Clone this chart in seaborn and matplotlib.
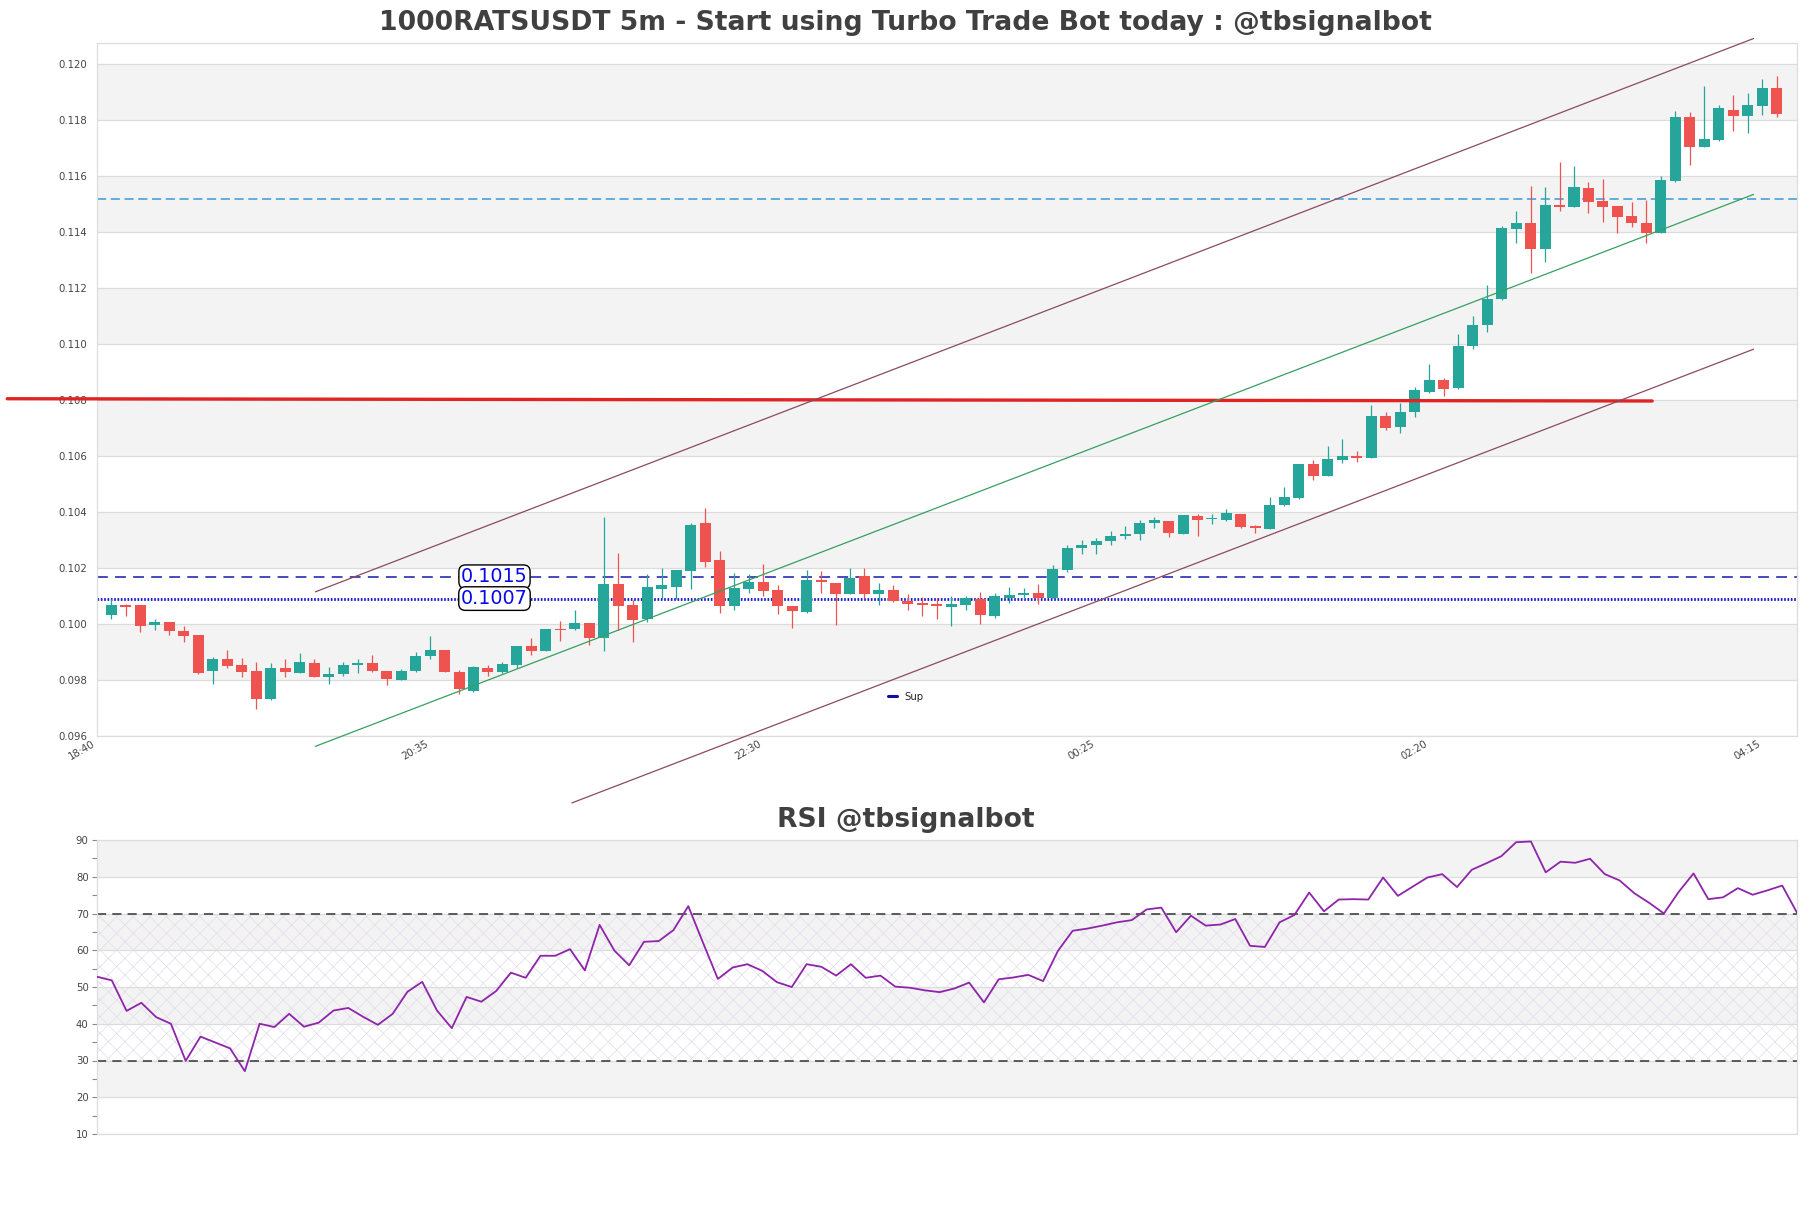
import numpy as np
import pandas as pd
import matplotlib
matplotlib.use("Agg")
import matplotlib.pyplot as plt
from matplotlib.lines import Line2D
import seaborn as sns

# ---------------- data ----------------
title_main = "1000RATSUSDT 5m - Start using Turbo Trade Bot today : @tbsignalbot"
title_rsi = "RSI @tbsignalbot"

opens = [0.10031, 0.10069, 0.10067, 0.09995, 0.10008, 0.09976, 0.09962, 0.09831, 0.09876, 0.09855,
         0.09834, 0.09731, 0.09843, 0.09824, 0.09861, 0.09810, 0.09820, 0.09853, 0.09861, 0.09834,
         0.09801, 0.09831, 0.09885, 0.09907, 0.09829, 0.09759, 0.09844, 0.09828, 0.09852, 0.09920,
         0.09903, 0.09981, 0.09981, 0.10002, 0.09949, 0.10143, 0.10067, 0.10017, 0.10125, 0.10132,
         0.10190, 0.10362, 0.10229, 0.10065, 0.10125, 0.10150, 0.10121, 0.10064, 0.10044, 0.10158,
         0.10148, 0.10108, 0.10170, 0.10108, 0.10123, 0.10083, 0.10076, 0.10071, 0.10060, 0.10067,
         0.10091, 0.10029, 0.10094, 0.10102, 0.10112, 0.10094, 0.10194, 0.10273, 0.10281, 0.10295,
         0.10314, 0.10320, 0.10361, 0.10368, 0.10323, 0.10386, 0.10374, 0.10370, 0.10392, 0.10349,
         0.10338, 0.10424, 0.10451, 0.10572, 0.10530, 0.10587, 0.10599, 0.10594, 0.10744, 0.10705,
         0.10758, 0.10830, 0.10871, 0.10844, 0.10994, 0.11067, 0.11162, 0.11411, 0.11432, 0.11340,
         0.11497, 0.11491, 0.11557, 0.11511, 0.11494, 0.11458, 0.11432, 0.11398, 0.11584, 0.11810,
         0.11705, 0.11729, 0.11838, 0.11816, 0.11851, 0.11917]
highs = [0.10091, 0.10070, 0.10069, 0.10019, 0.10009, 0.09993, 0.09962, 0.09882, 0.09909, 0.09880,
         0.09864, 0.09861, 0.09876, 0.09898, 0.09874, 0.09848, 0.09864, 0.09876, 0.09891, 0.09834,
         0.09841, 0.09900, 0.09957, 0.09909, 0.09835, 0.09850, 0.09852, 0.09865, 0.09923, 0.09949,
         0.09983, 0.10011, 0.10049, 0.10003, 0.10382, 0.10253, 0.10085, 0.10178, 0.10200, 0.10194,
         0.10361, 0.10416, 0.10262, 0.10184, 0.10178, 0.10214, 0.10139, 0.10064, 0.10193, 0.10188,
         0.10148, 0.10201, 0.10201, 0.10148, 0.10141, 0.10106, 0.10096, 0.10093, 0.10100, 0.10100,
         0.10114, 0.10111, 0.10132, 0.10130, 0.10144, 0.10210, 0.10283, 0.10301, 0.10307, 0.10331,
         0.10352, 0.10373, 0.10381, 0.10369, 0.10391, 0.10394, 0.10392, 0.10410, 0.10392, 0.10353,
         0.10453, 0.10489, 0.10572, 0.10586, 0.10637, 0.10661, 0.10619, 0.10783, 0.10756, 0.10791,
         0.10848, 0.10930, 0.10878, 0.11037, 0.11101, 0.11212, 0.11422, 0.11476, 0.11565, 0.11563,
         0.11652, 0.11636, 0.11578, 0.11590, 0.11494, 0.11509, 0.11515, 0.11601, 0.11832, 0.11828,
         0.11923, 0.11854, 0.11889, 0.11899, 0.11947, 0.11957]
lows = [0.10019, 0.10029, 0.09972, 0.09978, 0.09960, 0.09936, 0.09820, 0.09785, 0.09844, 0.09811,
        0.09697, 0.09729, 0.09810, 0.09824, 0.09811, 0.09785, 0.09814, 0.09824, 0.09829, 0.09781,
        0.09799, 0.09829, 0.09874, 0.09827, 0.09751, 0.09757, 0.09813, 0.09825, 0.09843, 0.09889,
        0.09903, 0.09941, 0.09977, 0.09925, 0.09903, 0.09977, 0.09935, 0.10007, 0.10091, 0.10089,
        0.10125, 0.10205, 0.10041, 0.10049, 0.10110, 0.10101, 0.10035, 0.09987, 0.10038, 0.10111,
        0.09998, 0.10108, 0.10094, 0.10067, 0.10079, 0.10049, 0.10029, 0.10017, 0.09993, 0.10049,
        0.10001, 0.10023, 0.10076, 0.10091, 0.10073, 0.10094, 0.10186, 0.10249, 0.10249, 0.10281,
        0.10305, 0.10301, 0.10343, 0.10311, 0.10321, 0.10315, 0.10356, 0.10368, 0.10343, 0.10325,
        0.10338, 0.10421, 0.10447, 0.10516, 0.10530, 0.10574, 0.10578, 0.10594, 0.10694, 0.10681,
        0.10741, 0.10827, 0.10815, 0.10840, 0.10982, 0.11045, 0.11156, 0.11360, 0.11256, 0.11293,
        0.11477, 0.11491, 0.11470, 0.11438, 0.11398, 0.11420, 0.11363, 0.11398, 0.11580, 0.11640,
        0.11705, 0.11727, 0.11761, 0.11753, 0.11818, 0.11810]
closes = [0.10069, 0.10060, 0.09992, 0.10007, 0.09974, 0.09956, 0.09825, 0.09876, 0.09851, 0.09828,
          0.09731, 0.09844, 0.09828, 0.09866, 0.09811, 0.09823, 0.09854, 0.09861, 0.09831, 0.09804,
          0.09834, 0.09886, 0.09909, 0.09827, 0.09767, 0.09848, 0.09828, 0.09859, 0.09920, 0.09903,
          0.09981, 0.09978, 0.10002, 0.09949, 0.10143, 0.10065, 0.10013, 0.10132, 0.10140, 0.10193,
          0.10355, 0.10223, 0.10065, 0.10128, 0.10150, 0.10119, 0.10065, 0.10047, 0.10157, 0.10150,
          0.10108, 0.10166, 0.10108, 0.10123, 0.10081, 0.10073, 0.10067, 0.10063, 0.10071, 0.10093,
          0.10031, 0.10100, 0.10104, 0.10112, 0.10094, 0.10198, 0.10273, 0.10283, 0.10296, 0.10314,
          0.10323, 0.10361, 0.10373, 0.10325, 0.10391, 0.10370, 0.10376, 0.10396, 0.10347, 0.10343,
          0.10426, 0.10453, 0.10572, 0.10530, 0.10590, 0.10599, 0.10594, 0.10744, 0.10700, 0.10759,
          0.10836, 0.10871, 0.10841, 0.10995, 0.11069, 0.11162, 0.11414, 0.11432, 0.11340, 0.11497,
          0.11491, 0.11563, 0.11509, 0.11491, 0.11455, 0.11432, 0.11396, 0.11586, 0.11810, 0.11705,
          0.11733, 0.11842, 0.11816, 0.11854, 0.11917, 0.11824]

rsi = [52.8, 51.8, 43.5, 45.7, 41.8, 40.0, 29.9, 36.5, 34.9, 33.3,
       27.1, 40.0, 39.1, 42.7, 39.2, 40.3, 43.6, 44.3, 41.9, 39.7,
       42.7, 48.7, 51.4, 43.6, 38.8, 47.3, 46.0, 48.9, 53.9, 52.5,
       58.5, 58.5, 60.3, 54.5, 66.9, 59.9, 55.9, 62.3, 62.5, 65.5,
       72.0, 62.0, 52.2, 55.3, 56.2, 54.4, 51.3, 50.0, 56.2, 55.5,
       53.1, 56.2, 52.5, 53.1, 50.1, 49.8, 49.1, 48.6, 49.6, 51.2,
       45.8, 52.1, 52.6, 53.3, 51.6, 59.8, 65.3, 65.9, 66.7, 67.6,
       68.2, 71.1, 71.6, 64.9, 69.4, 66.7, 67.0, 68.5, 61.2, 60.9,
       67.6, 69.6, 75.7, 70.6, 73.8, 73.9, 73.8, 79.8, 74.8, 77.3,
       79.8, 80.7, 77.2, 81.9, 83.7, 85.6, 89.4, 89.6, 81.2, 84.1,
       83.8, 84.9, 80.7, 79.0, 75.5, 72.9, 70.0, 75.9, 80.9, 73.9,
       74.4, 76.9, 75.1, 76.3, 77.6, 70.2]

time_labels = ["18:40", "20:35", "22:30", "00:25", "02:20", "04:15"]
tick_index = [-1, 22, 45, 68, 91, 114]

res_level = 0.10169      # dashed blue
sup_level = 0.10091      # dotted blue
res_label = "0.1015"
sup_label = "0.1007"
cyan_level = 0.1152
red_level = [0.10805, 0.10797]
red_x = [-7.2, 106.4]

chan_x_upper = [14.08, 113.4]
chan_y_upper = [0.10115, 0.12092]
chan_x_mid = [14.08, 113.4]
chan_y_mid = [0.09563, 0.11535]
chan_x_lower = [31.8, 113.4]
chan_y_lower = [0.09361, 0.10982]

df = pd.DataFrame({"open": opens, "high": highs, "low": lows, "close": closes})
df["idx"] = np.arange(len(df))

# ---------------- style ----------------
sns.set_theme(style="white")
plt.rcParams["font.family"] = ["DejaVu Sans"]
plt.rcParams["hatch.linewidth"] = 0.5

W, H = 1811, 1208
fig = plt.figure(figsize=(W / 100, H / 100), dpi=100)
fig.patch.set_facecolor("white")

ax = fig.add_axes([97 / W, 1 - 736 / H, 1700 / W, (736 - 43) / H])
ax2 = fig.add_axes([97 / W, 1 - 1134 / H, 1700 / W, (1134 - 840) / H])

GREEN = "#26a69a"
RED = "#ef5350"
BAND = "#f3f3f3"
GRID = "#dcdcdc"
TXT = "#444444"

# ---------------- main panel ----------------
ylo, yhi = 0.096, 0.12076
ax.set_ylim(ylo, yhi)
ax.set_xlim(-1, 116.4)
for k, y0 in enumerate(np.arange(0.096, 0.1201, 0.002)):
    if k % 2 == 1:
        ax.axhspan(y0, y0 + 0.002, color=BAND, zorder=0, lw=0)
    ax.axhline(y0, color=GRID, lw=0.9, zorder=0.5)

up = df["close"] >= df["open"]
colors = np.where(up, GREEN, RED)
body_lo = np.minimum(df["open"], df["close"])
body_h = np.maximum(np.abs(df["close"] - df["open"]), 0.00004)
ax.vlines(df["idx"], df["low"], df["high"], colors=colors, lw=0.9, zorder=3)
ax.bar(df["idx"], body_h, bottom=body_lo, width=0.76, color=colors, lw=0, zorder=4)

ax.axhline(res_level, color="#3a3ab8", lw=1.3, ls=(0, (6, 4)), zorder=2)
ax.axhline(sup_level, color="#1515cc", lw=2.0, ls=(0, (0.6, 0.6)), zorder=2, label="Sup")
ax.axhline(cyan_level, color="#3b9ad6", lw=1.1, ls=(0, (6, 3)), zorder=2)
ax.plot(red_x, red_level, color="#e02424", lw=2.4, zorder=5, clip_on=False)
ax.plot(chan_x_upper, chan_y_upper, color="#8a4a60", lw=0.9, zorder=5, clip_on=False)
ax.plot(chan_x_lower, chan_y_lower, color="#8a4a60", lw=0.9, zorder=5, clip_on=False)
ax.plot(chan_x_mid, chan_y_mid, color="#35a060", lw=0.9, zorder=5, clip_on=False)

box = dict(boxstyle="round,pad=0.12,rounding_size=0.35", fc="white", ec="black", lw=1.0)
ax.text(26.45, res_level, res_label, color="#0808e8", fontsize=13.8, ha="center", va="center",
        bbox=box, zorder=6)
ax.text(26.45, sup_level, sup_label, color="#0808e8", fontsize=13.8, ha="center", va="center",
        bbox=box, zorder=6)

ax.set_yticks(np.arange(0.096, 0.1201, 0.002))
ax.set_yticklabels([f"{v:.3f}" for v in np.arange(0.096, 0.1201, 0.002)])
ax.set_xticks(tick_index)
ax.set_xticklabels(time_labels, rotation=30, ha="right")
ax.tick_params(axis="y", length=0, pad=7, labelsize=7.3, labelcolor=TXT)
ax.tick_params(axis="x", length=0, pad=2, labelsize=7.3, labelcolor=TXT)
for s in ax.spines.values():
    s.set_color("#dddddd")
    s.set_linewidth(0.9)
ax.set_facecolor("white")

ax.legend(handles=[Line2D([0], [0], color="#1010a0", lw=2.2)], labels=["Sup"],
          loc="center", bbox_to_anchor=(0.5, 0.4234), bbox_transform=fig.transFigure,
          frameon=False, fontsize=7.3, handlelength=0.9, handletextpad=0.7)

# ---------------- RSI panel ----------------
rsi_df = pd.DataFrame({"i": np.arange(len(rsi)), "rsi": rsi})
ax2.set_ylim(10, 90)
ax2.set_xlim(0, len(rsi) - 1)
for k, y0 in enumerate(range(10, 90, 10)):
    if k % 2 == 1:
        ax2.axhspan(y0, y0 + 10, color=BAND, zorder=0, lw=0)
for y0 in range(10, 91, 10):
    ax2.axhline(y0, color=GRID, lw=0.9, zorder=0.5)
ax2.fill_between([0, len(rsi) - 1], 30, 70, facecolor="none", edgecolor="#e2dcea",
                 hatch="xx", lw=0, zorder=0.6)
ax2.axhline(30, color="#333333", lw=1.1, ls=(0, (6, 4)), zorder=2)
ax2.axhline(70, color="#333333", lw=1.1, ls=(0, (6, 4)), zorder=2)
sns.lineplot(data=rsi_df, x="i", y="rsi", ax=ax2, color="#8e24aa", lw=1.3, zorder=3)
ax2.set_xlabel("")
ax2.set_ylabel("")
ax2.set_xticks([])
ax2.set_yticks(range(10, 91, 10))
ax2.set_yticks(range(15, 90, 10), minor=True)
ax2.tick_params(axis="y", which="both", left=True, length=3.5, width=0.8, color="#888888",
                pad=2.5, labelsize=7.3, labelcolor=TXT)
for s in ax2.spines.values():
    s.set_color("#dddddd")
    s.set_linewidth(0.9)

# ---------------- titles ----------------
fig.text(0.5, 1 - 23 / H, title_main, ha="center", va="center", fontsize=19.2,
         fontweight="bold", color="#404040")
fig.text(0.5, 1 - 820 / H, title_rsi, ha="center", va="center", fontsize=19.2,
         fontweight="bold", color="#404040")

fig.savefig("out.png", dpi=100, facecolor="white")
